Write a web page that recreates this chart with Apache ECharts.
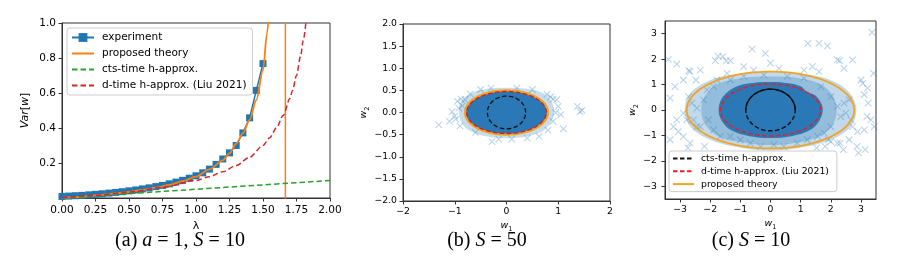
<!DOCTYPE html>
<html><head><meta charset="utf-8">
<script src="https://cdn.jsdelivr.net/npm/echarts@6/dist/echarts.min.js"></script>
<style>html,body{margin:0;padding:0;background:#fff}#c{width:900px;height:258px}</style>
</head><body><div id="c"></div>
<script>
// ---------- panel (a) data ----------
const expLam = [0,0.05,0.10,0.15,0.20,0.25,0.30,0.35,0.40,0.45,0.50,0.55,0.60,0.65,0.70,0.75,0.80,0.85,0.90,0.95,1.00,1.05,1.10,1.15,1.20,1.25,1.30,1.35,1.40,1.45,1.50];
const expVar = [0.009,0.011,0.013,0.015,0.018,0.021,0.024,0.028,0.032,0.036,0.041,0.046,0.052,0.058,0.065,0.072,0.081,0.091,0.101,0.113,0.127,0.144,0.165,0.192,0.223,0.258,0.300,0.372,0.458,0.615,0.768];
const theoryLam = [0,0.1,0.2,0.3,0.4,0.5,0.6,0.7,0.8,0.9,1.0,1.1,1.2,1.25,1.3,1.35,1.4,1.45,1.5,1.53,1.55];
const theoryVar = [0,0.005,0.011,0.018,0.026,0.035,0.046,0.059,0.075,0.096,0.122,0.164,0.215,0.255,0.31,0.37,0.446,0.56,0.73,0.94,1.12];
const jumpLam = [1.667,1.667];
const jumpVar = [-0.1,1.1];
const ctsLam = [0,0.5,1.0,1.5,2.0];
const ctsVar = [0,0.025,0.05,0.075,0.10];
const liuLam = [0,0.25,0.5,0.75,1.0,1.1,1.2,1.3,1.4,1.5,1.55,1.6,1.65,1.7,1.72,1.75,1.78,1.8,1.83];
const liuVar = [0.002,0.015,0.034,0.06,0.10,0.122,0.15,0.186,0.233,0.30,0.344,0.40,0.471,0.567,0.614,0.70,0.809,0.90,1.08];
const yTicksA = [0.2,0.4,0.6,0.8,1.0];

// ---------- panel (b) data (S = 50) ----------
const radiiTheoryB = [0.80,0.50];
const radiiLiuB = [0.77,0.475];
const radiiCtsB = [0.37,0.37];
const coreB = [[-0.81,0],[-0.75,0.2],[-0.57,0.36],[-0.3,0.47],[0,0.51],[0.3,0.47],[0.57,0.36],[0.75,0.2],[0.81,0],[0.75,-0.2],[0.57,-0.36],[0.3,-0.47],[0,-0.51],[-0.3,-0.47],[-0.57,-0.36],[-0.75,-0.2]];
const haloB = [[-0.92,0.05],[-0.86,0.28],[-0.65,0.45],[-0.35,0.54],[0,0.56],[0.35,0.54],[0.7,0.44],[0.87,0.25],[0.92,0.03],[0.86,-0.22],[0.68,-0.43],[0.35,-0.55],[0,-0.58],[-0.35,-0.55],[-0.7,-0.42],[-0.87,-0.22]];
const outB = [[-1.31,-0.28],[-1.05,0.02],[-0.98,-0.15],[-0.95,0.25],[-0.88,0.3],[-0.9,-0.3],[-1.0,-0.08],[-0.85,0.15],[-0.8,0.29],[1.42,0.02],[1.37,0.14],[1.46,0.05],[1.1,-0.37],[0.78,0.41],[0.63,-0.54],[-0.28,-0.66],[-0.15,-0.6],[1.0,0.14],[0.97,0.29],[0.9,-0.2],[0.95,0.0],[0.85,0.35],[-0.7,0.42],[-0.5,0.52],[0.2,0.55],[0.4,-0.58],[-0.6,-0.45],[0.1,-0.6],[-0.3,0.55],[0.5,0.52],[1.05,-0.05],[-1.1,-0.2],[0.8,-0.4],[-0.92,0.1],[0.9,0.3]];

// ---------- panel (c) data (S = 10) ----------
const radiiTheoryC = [2.78,1.51];
const radiiLiuC = [1.66,1.02];
const radiiCtsC = [0.82,0.82];
const coreC = [[-1.72,0],[-1.62,0.45],[-1.3,0.82],[-0.8,1.03],[0,1.1],[0.6,1.05],[1.0,0.93],[1.2,0.72],[1.5,0.56],[1.73,0.1],[1.63,-0.4],[1.3,-0.8],[0.7,-1.03],[0,-1.1],[-0.7,-1.03],[-1.3,-0.8],[-1.63,-0.4]];
const haloC = [[-2.85,0],[-2.7,0.6],[-2.3,1.0],[-1.7,1.3],[-0.9,1.45],[0,1.5],[0.9,1.45],[1.7,1.3],[2.3,1.0],[2.7,0.55],[2.85,0],[2.7,-0.6],[2.3,-1.0],[1.7,-1.3],[0.9,-1.5],[0,-1.6],[-0.9,-1.5],[-1.7,-1.3],[-2.3,-1.0],[-2.7,-0.6]];
const innerHaloC = [[-2.3,0],[-2.15,0.6],[-1.7,1.05],[-0.8,1.28],[0,1.32],[0.8,1.28],[1.6,1.05],[2.05,0.6],[2.2,0],[2.05,-0.6],[1.6,-1.05],[0.8,-1.3],[0,-1.38],[-0.8,-1.3],[-1.7,-1.05],[-2.15,-0.6]];
const outC = [[3.37,3.05],[1.24,2.62],[1.61,2.62],[1.89,2.52],[-0.61,2.39],[-0.17,2.23],[-3.39,1.99],[-3.11,1.80],[-1.83,1.94],[-1.58,2.1],[-1.33,1.94],[0,1.84],[0.28,1.64],[2.22,1.97],[2.72,1.97],[2.44,1.64],[-2.67,1.51],[-2.33,1.57],[-2.89,1.18],[-3.17,0.92],[3.42,1.44],[3.06,1.05],[3.22,0.86],[3.11,0.6],[3.24,0.27],[1.39,1.71],[1.61,1.51],[-0.89,1.71],[-0.56,1.57],[-1.44,1.44],[1.11,1.57],[-3.33,0.47],[-3.11,-0.39],[-3.22,-0.65],[-3.06,-0.85],[-2.89,-1.05],[-3.33,-1.17],[-2.67,-1.3],[-2.78,-0.39],[-2.44,-0.65],[2.72,-0.65],[2.89,-0.85],[3.11,-0.78],[3.33,-0.39],[3.44,-0.65],[2.61,-1.17],[2.22,-1.3],[2.0,-1.24],[-2.74,-1.49],[-2.19,-1.43],[1.53,-1.49],[1.92,-1.17],[2.31,-1.3],[2.42,-1.56],[2.87,-1.43],[2.92,-1.69],[3.14,-1.56],[1.42,-1.82],[3.2,-0.25],[1.81,-1.43],[-2.71,1.55],[-2.47,1.18],[-1.47,1.93],[-1.74,2.12],[2.29,1.94],[3.0,1.18],
  [-2.44,0.07],[-2.22,0.4],[-2.56,-0.39],[-2.06,-0.39],[-1.89,0.92],[-1.33,1.18],[-0.89,1.32],[-0.22,1.38],[0.56,1.32],[1.11,1.25],[1.67,0.92],[2.0,0.53],[2.22,0.14],[2.33,-0.26],[2.0,-0.65],[1.56,-1.04],[0.89,-1.3],[0.11,-1.37],[-0.67,-1.3],[-1.33,-1.04],[-1.89,-0.78],[-2.33,-0.65],[-2.61,0.27],[2.44,0.27],[2.5,-0.12],[1.78,-0.91],[-1.0,-1.17],[-0.33,-1.43],[0.44,-1.43],[-1.78,1.18],[-2.11,0.79],[-2.89,-0.12],[-2.72,0.53],[2.67,-0.39],[2.61,0.4],[1.22,-1.17],[-1.67,-1.04]];
const tickC = [-3,-2,-1,0,1,2,3];

// ---------- helpers ----------
const zip = (a,b) => a.map((v,i)=>[v,b[i]]);
function ellipsePts(r, t0, t1){ const n=120, pts=[]; for(let k=0;k<=n;k++){const t=t0+(t1-t0)*k/n; pts.push([r[0]*Math.cos(t), r[1]*Math.sin(t)]);} return pts; }
const minus = s => String(s).replace('-', '\u2212');
const FONT = 'DejaVu Sans';
const AX = '#333';
const C0='#1f77b4', C1='#ff7f0e', C2='#2ca02c', C3='#d62728';
const SC = 'rgba(31,119,180,0.38)';
const XSYM = 'path://M0 0L10 10M10 0L0 10';

function axisBase(gi, fs){
  return {type:'value', gridIndex:gi, splitLine:{show:false},
    axisLine:{show:true, onZero:false, lineStyle:{color:AX,width:1}},
    axisTick:{show:true, length:3.5, lineStyle:{color:AX,width:1}},
    axisLabel:{color:'#000', fontFamily:FONT, fontSize:fs, margin:6}};
}
function polySeries(xi, pts, fill){
  return {type:'custom', coordinateSystem:'cartesian2d', xAxisIndex:xi, yAxisIndex:xi, data:[[0,0]], silent:true,
    renderItem:(p,api)=>({type:'polygon', shape:{points:pts.map(q=>api.coord(q)), smooth:0.35}, style:{fill:fill, stroke:null}})};
}
function lineS(name, xi, data, color, width, dash, extra){
  return Object.assign({name, type:'line', xAxisIndex:xi, yAxisIndex:xi, data, symbol:'none', showSymbol:false,
    lineStyle:{color, width, type: dash || 'solid'}, itemStyle:{color}, silent:true, z:3}, extra||{});
}
function scatterS(xi, data){
  return {type:'scatter', xAxisIndex:xi, yAxisIndex:xi, data, symbol:XSYM, symbolSize:6.5, silent:true,
    itemStyle:{color:'rgba(0,0,0,0)', borderColor:SC, borderWidth:1.1}};
}
const subName = n => '{i|w}{s|'+n+'}';
const subRich = {i:{fontFamily:'DejaVu Sans', fontStyle:'italic', fontSize:9.5, verticalAlign:'top', color:'#000'},
                 s:{fontFamily:'DejaVu Sans', fontSize:6.5, padding:[5,0,0,0], verticalAlign:'bottom', color:'#000'}};

const xA = axisBase(0,10.5); Object.assign(xA,{min:0,max:2,interval:0.25, name:'λ', nameLocation:'middle', nameGap:15,
  nameTextStyle:{fontFamily:FONT,fontSize:11,color:'#000'}});
xA.axisLabel.formatter = v=>v.toFixed(2); xA.axisLabel.margin=7;
const yA = axisBase(0,10.5); Object.assign(yA,{min:0,max:1,interval:0.2, name:'{i|Var}[{i|w}]', nameLocation:'middle', nameGap:31,
  nameTextStyle:{fontFamily:FONT,fontSize:11,color:'#000', rich:{i:{fontStyle:'italic',fontFamily:FONT,fontSize:11,color:'#000'}}}});
yA.axisLabel.formatter = v=>v.toFixed(1); yA.axisLabel.customValues = yTicksA; yA.axisTick.customValues = yTicksA;

const xB = axisBase(1,9.3); Object.assign(xB,{min:-2,max:2,interval:1, name:subName(1), nameLocation:'middle', nameGap:15,
  nameTextStyle:{rich:subRich}});
xB.axisLabel.formatter = v=>minus(v);
const yB = axisBase(1,9.3); Object.assign(yB,{min:-2,max:2,interval:0.5, name:subName(2), nameLocation:'middle', nameGap:30,
  nameTextStyle:{rich:subRich}});
yB.axisLabel.formatter = v=>minus(v.toFixed(1));

const xC = axisBase(2,9.3); Object.assign(xC,{min:-3.5,max:3.5, name:subName(1), nameLocation:'middle', nameGap:15,
  nameTextStyle:{rich:subRich}});
xC.axisLabel.formatter = v=>minus(v); xC.axisLabel.customValues = tickC; xC.axisTick.customValues = tickC;
const yC = axisBase(2,9.3); Object.assign(yC,{min:-3.5,max:3.5, name:subName(2), nameLocation:'middle', nameGap:24,
  nameTextStyle:{rich:subRich}});
yC.axisLabel.formatter = v=>minus(v); yC.axisLabel.customValues = tickC; yC.axisTick.customValues = tickC;
yC.axisLabel.margin = 8;

const gridStyle = {show:true, borderColor:AX, borderWidth:1, backgroundColor:'#fff', containLabel:false};
const capFont = 'Liberation Serif';
const CFS = 20;
const capRich = {i:{fontFamily:capFont, fontStyle:'italic', fontSize:CFS, fill:'#000'}, n:{fontFamily:capFont, fontSize:CFS, fill:'#000'}};
function caption(x, text){
  return {type:'text', x:x, y:241, style:{text, rich:capRich, font:CFS+'px '+capFont, fill:'#000', align:'center', verticalAlign:'middle', textAlign:'center', textVerticalAlign:'middle'}};
}
const noSym = n => ({name:n, itemStyle:{opacity:0}});

const option = {
  animation:false,
  grid:[Object.assign({left:62, top:23, width:268, height:175}, gridStyle),
        Object.assign({left:403, top:24, width:207, height:177}, gridStyle),
        Object.assign({left:665, top:21, width:211, height:178}, gridStyle)],
  xAxis:[xA,xB,xC], yAxis:[yA,yB,yC],
  legend:[
    {left:67, top:28, orient:'vertical', selectedMode:false, itemWidth:22, itemHeight:11, itemGap:5,
     padding:[4,6,4,4], backgroundColor:'rgba(255,255,255,0.85)', borderColor:'#ccc', borderWidth:1, borderRadius:3,
     textStyle:{fontFamily:FONT, fontSize:10.5, color:'#000', padding:[0,0,0,3]},
     data:['experiment', noSym('proposed theory'), noSym('cts-time h-approx.'), noSym('d-time h-approx. (Liu 2021)')]},
    {left:669, top:151, orient:'vertical', selectedMode:false, itemWidth:21, itemHeight:10, itemGap:3.8,
     padding:[3,5,3,3], backgroundColor:'rgba(255,255,255,0.85)', borderColor:'#ccc', borderWidth:1, borderRadius:3,
     textStyle:{fontFamily:FONT, fontSize:9.3, color:'#000', padding:[0,0,0,2]},
     data:[noSym('cts-time h-approx. '), noSym('d-time h-approx. (Liu 2021) '), noSym('proposed theory ')]}
  ],
  graphic:[
    caption(180, '{n|(a) }{i|a}{n| = 1, }{i|S}{n| = 10}'),
    caption(487, '{n|(b) }{i|S}{n| = 50}'),
    caption(751, '{n|(c) }{i|S}{n| = 10}')
  ],
  series:[
    // (a)
    {name:'experiment', type:'line', xAxisIndex:0, yAxisIndex:0, data:zip(expLam,expVar), symbol:'rect', symbolSize:7,
     lineStyle:{color:C0,width:1.5}, itemStyle:{color:C0}, silent:true, z:2, zlevel:0},
    lineS('proposed theory',0,zip(theoryLam,theoryVar),C1,1.8,null,{smooth:0.3, smoothMonotone:'x', zlevel:1, z:10}),
    lineS('proposed theory',0,zip(jumpLam,jumpVar),C1,1.5,null,{zlevel:1, z:10}),
    lineS('cts-time h-approx.',0,zip(ctsLam,ctsVar),C2,1.5,[5.5,3],{zlevel:1, z:11}),
    lineS('d-time h-approx. (Liu 2021)',0,zip(liuLam,liuVar),C3,1.5,[5.5,3],{smooth:0.3, smoothMonotone:'x', zlevel:1, z:11}),
    // (b)
    polySeries(1, haloB, 'rgba(31,119,180,0.25)'),
    scatterS(1, outB),
    polySeries(1, coreB, '#2a78b5'),
    lineS('b-cts',1,ellipsePts(radiiCtsB,0,2*Math.PI),'#111',1.3,[4.5,2.5]),
    lineS('b-theory',1,ellipsePts(radiiTheoryB,0,2*Math.PI),'#f5a31e',2.2),
    lineS('b-liu',1,ellipsePts(radiiLiuB,0,2*Math.PI),'#e8141a',1.3,[4.5,2.5]),
    // (c)
    polySeries(2, haloC, 'rgba(31,119,180,0.28)'),
    polySeries(2, innerHaloC, 'rgba(31,119,180,0.28)'),
    scatterS(2, outC),
    polySeries(2, coreC, '#2a78b5'),
    lineS('cts-time h-approx. ',2,ellipsePts(radiiCtsC,0,2*Math.PI),'#111',1.4,[4.5,2.5]),
    lineS('c-cts-top',2,ellipsePts(radiiCtsC,0,Math.PI),'#111',1.4),
    lineS('d-time h-approx. (Liu 2021) ',2,ellipsePts(radiiLiuC,0,2*Math.PI),'#ee1c24',1.4,[4.5,2.5]),
    lineS('proposed theory ',2,ellipsePts(radiiTheoryC,0,2*Math.PI),'#f5a31e',1.8)
  ]
};
const chart = echarts.init(document.getElementById('c'), null, {renderer:'canvas'});
chart.setOption(option);
</script></body></html>
